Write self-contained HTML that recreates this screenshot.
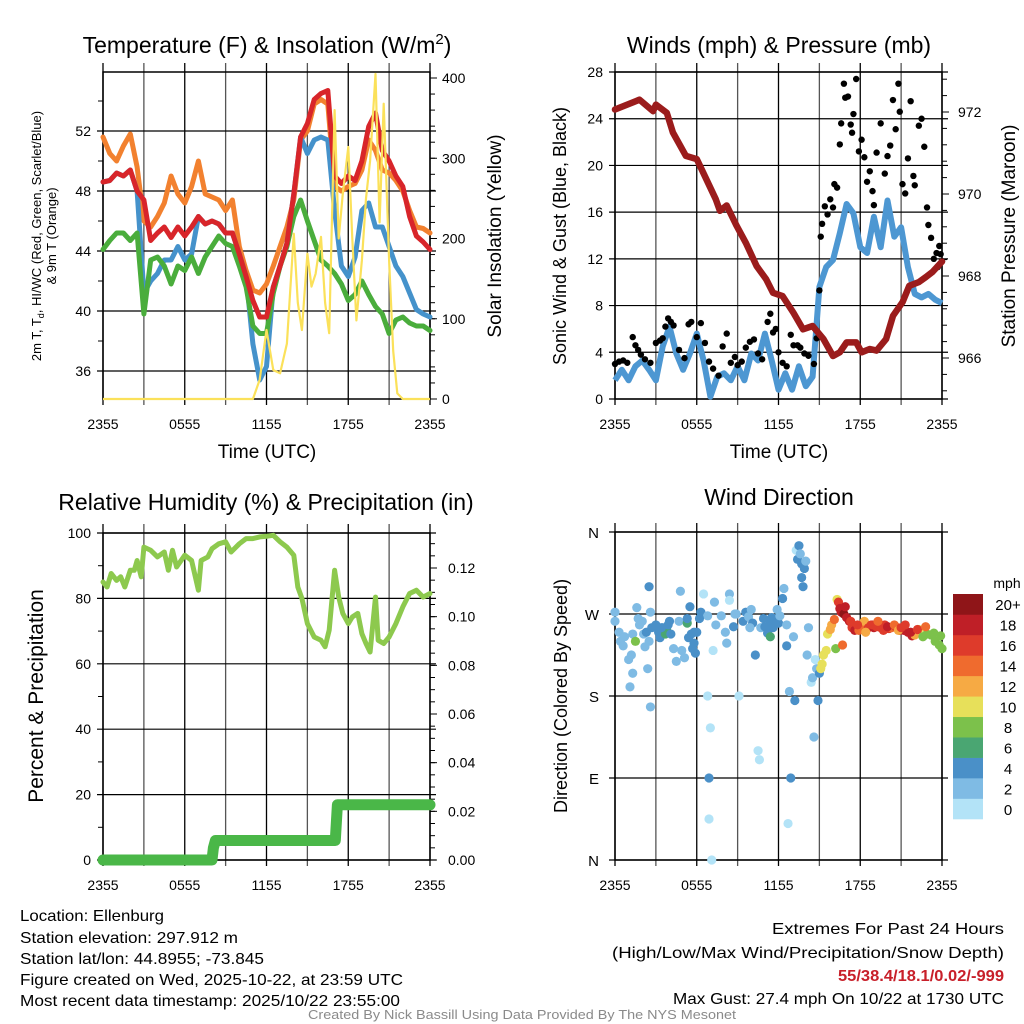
<!DOCTYPE html>
<html><head><meta charset="utf-8"><style>
html,body{margin:0;padding:0;background:#fff;}
svg{display:block;font-family:"Liberation Sans",sans-serif;}
</style></head><body>
<svg id="fig" width="1024" height="1024" viewBox="0 0 1024 1024" xmlns="http://www.w3.org/2000/svg">
<rect width="1024" height="1024" fill="#fff"/>
<g id="p1"></g>
<g id="p2"></g>
<g id="p3"></g>
<g id="p4"></g>
<g font-family="'Liberation Sans Narrow','Liberation Sans',sans-serif" font-size="16" fill="#000">
<text x="20" y="921" textLength="144" lengthAdjust="spacingAndGlyphs">Location: Ellenburg</text>
<text x="20" y="943" textLength="218" lengthAdjust="spacingAndGlyphs">Station elevation: 297.912 m</text>
<text x="20" y="964" textLength="244" lengthAdjust="spacingAndGlyphs">Station lat/lon: 44.8955; -73.845</text>
<text x="20" y="985" textLength="383" lengthAdjust="spacingAndGlyphs">Figure created on Wed, 2025-10-22, at 23:59 UTC</text>
<text x="20" y="1006" textLength="380" lengthAdjust="spacingAndGlyphs">Most recent data timestamp: 2025/10/22 23:55:00</text>
</g>
<g font-family="'Liberation Sans Narrow','Liberation Sans',sans-serif" font-size="16" text-anchor="end">
<text x="1004" y="934" textLength="232" lengthAdjust="spacingAndGlyphs">Extremes For Past 24 Hours</text>
<text x="1004" y="958" textLength="392" lengthAdjust="spacingAndGlyphs">(High/Low/Max Wind/Precipitation/Snow Depth)</text>
<text x="1004" y="981" fill="#c8202a" font-weight="bold" textLength="166" lengthAdjust="spacingAndGlyphs">55/38.4/18.1/0.02/-999</text>
<text x="1004" y="1004" textLength="331" lengthAdjust="spacingAndGlyphs">Max Gust: 27.4 mph On 10/22 at 1730 UTC</text>
</g>
<text x="522" y="1019" text-anchor="middle" font-family="'Liberation Sans Narrow','Liberation Sans',sans-serif" font-size="13" fill="#8a8a8a" textLength="428" lengthAdjust="spacingAndGlyphs">Created By Nick Bassill Using Data Provided By The NYS Mesonet</text>
</svg>
<script>
// ---- data (half-hourly, t = 0..24 h from 2355 UTC) ----
const tempT = [48.6,48.7,49.2,49,49.4,48,47.4,44.7,45.2,45.6,44.9,45.6,45,45.6,46.3,45.8,46,45.8,45.2,45.2,43.8,42.3,40.7,39.6,39.6,41.6,43,44.5,47.8,51.6,52.5,54.1,54.5,54.7,49,48.5,49,48.7,50,52.3,53.2,50.7,50,49,48.3,46.3,45,44.6,44.1];
const temp9m = [51.6,50.5,50,51,51.8,49.6,46,45.6,46.3,47.2,49,47.8,47.2,48.3,50,47.8,47.6,47.4,46.7,47.4,44.3,42.7,41.4,41.2,41.8,43,44.3,45.6,47.4,51.4,52,53.8,54.1,53.8,48.3,48,48.3,48.5,49.4,51.4,50.7,49.4,49.2,48.7,48,46.7,45.6,45.5,45.2];
const dewpt = [44.1,44.7,45.2,45.2,44.7,45.2,39.8,43.4,43.6,43,41.8,43,42.7,43.6,42.5,43.6,44.3,45,44.5,44.3,43,41.6,39,38.5,38.5,41.2,43,44.3,46.3,47.4,46,44.7,43.4,43,42.5,41.8,40.7,41.1,42,41.1,40.3,39.8,38.5,39.4,39.6,39.2,39,39,38.7];
const hiwc = [48.6,48.7,49.2,49,49.4,48,41.2,42,42.5,43.4,43.4,44.3,43.4,43.8,46.3,45.8,46,45.8,45.2,45.2,43.8,42.3,37.8,35.4,36.3,41.6,43,44.5,47.8,51.6,50.5,51.4,51.6,51.4,46.7,43,42.3,43.6,46.7,47.2,45.6,45.6,44.3,43,42.3,41.2,40.1,39.8,39.6];
const solarT = [0,11,11.5,12,12.5,13,13.5,14,14.3,14.6,15,15.3,15.6,16,16.3,16.6,17,17.3,17.6,18,18.3,18.6,19,19.3,19.6,20,20.3,20.6,21,21.3,21.6,22,24];
const solarW = [0,0,24,86,36,32,69,206,120,86,181,140,156,202,120,82,360,200,256,314,200,98,173,250,297,405,220,368,173,60,7,0,0];
const presT = [0,1.8,2.8,3,3.8,4.25,5.2,6,6.7,7.4,7.7,8.2,8.9,9.6,10.4,11.1,11.6,12.3,13.1,13.8,14.5,15.3,16,16.5,17,17.7,18.1,18.7,19.2,19.9,20.4,21.1,21.6,22.3,22.8,23.3,24];
const pressure = [972.06,972.3,972.02,972.18,971.98,971.5,970.93,970.85,970.36,969.87,969.59,969.72,969.24,968.81,968.24,967.92,967.59,967.51,967.1,966.7,966.78,966.46,966.05,966.14,966.38,966.38,966.14,966.22,966.18,966.46,967.03,967.36,967.76,967.85,967.97,968.1,968.35];
const sonicWind = [1.6,2.5,1.6,2.8,3.3,2.5,1.6,4.5,6.2,3.9,2.5,3.9,5.6,3.3,0.2,1.9,2.2,1.6,2.8,1.6,3.9,3.3,5.6,3.3,0.8,2.2,0.8,2.8,1.1,1.9,9.6,11.3,11.9,14.2,16.7,15.9,13,12.5,15.6,13,17,13.9,14.7,11.3,9,8.7,9,8.5,8.2];
const gustT = [0,0.3,0.6,0.9,1.3,1.5,1.7,1.9,2.2,2.6,3,3.3,3.5,3.7,3.9,4.1,4.3,4.7,5.1,5.4,5.6,6,6.3,6.6,6.9,7.2,7.6,7.9,8.2,8.5,8.8,9,9.3,9.6,9.9,10.2,10.5,10.8,11.2,11.4,11.6,11.8,12,12.3,12.6,12.9,13.1,13.4,13.6,13.9,14.2,14.6,14.8,15,15.1,15.2,15.4,15.6,15.8,16,16.1,16.3,16.5,16.6,16.8,16.9,17.1,17.3,17.4,17.5,17.7,17.9,18.1,18.3,18.5,18.7,18.9,19,19.2,19.5,19.8,20,20.2,20.4,20.6,20.8,20.9,21.1,21.3,21.5,21.7,21.9,22,22.3,22.5,22.7,22.9,23,23.2,23.4,23.6,23.8,24,23.7,23.9];
const gustV = [3,3.2,3.3,3.1,5.3,4.6,4.2,3.8,3.4,3.1,4.8,5,5.2,6.2,6.9,6.6,6.3,4.2,3.5,6.4,6.6,5.3,6.5,4.8,3.2,2.6,2,4.5,5.6,3.1,3.6,2.9,3.2,4.4,4.9,5.1,3.9,3.4,6.6,7.3,5.7,6,4,3.1,2.8,5.5,4.6,4.6,4.4,3.9,3.7,3,5.2,9.3,13.9,15,16.5,15.8,17.1,16.4,18.4,18.1,21.8,23.6,27,25.8,25.9,23.5,22.8,24.4,27.4,21.2,22.2,20.7,18.6,19.5,17.8,16.6,21.1,23.6,19.3,20.8,21.7,25.6,23.1,27,24.6,18.4,17.6,20.6,25.5,19.1,18.3,23.4,24,21.6,16.4,14.9,13.8,12,12.5,13.1,11.8,11.3,12.4];
const dirT = [0,0,0.3,0.4,0.6,0.7,1.0,1.2,1.1,1.3,1.3,1.6,1.7,1.8,2.0,2.1,2.3,2.4,2.5,2.6,2.5,2.7,2.6,3.0,3.2,3.3,3.5,3.7,3.8,3.9,4.1,4.3,4.5,4.7,4.8,4.9,5.1,5.3,5.4,5.5,5.3,5.6,5.7,5.8,5.9,6.0,6.3,6.5,6.8,6.8,7.0,6.9,6.9,7.1,7.2,7.3,7.4,7.8,8.1,8.2,8.4,8.4,8.7,8.9,9.1,9.4,9.6,9.8,10.0,10.1,10.3,10.7,10.5,10.6,11.0,11.2,11.4,11.4,11.5,11.7,11.9,12.0,12.1,12.3,12.4,12.6,12.6,12.7,12.8,13.2,12.9,13.1,13.3,13.4,13.5,13.6,13.7,13.7,13.8,13.9,14.0,14.1,14.2,14.4,14.5,14.6,14.7,14.8,14.9,15.0,15.1,15.2,15.3,15.5,15.6,15.8,15.9,16.1,16.3,16.4,16.5,16.6,16.8,17.0,17.2,17.4,17.6,17.9,18.1,18.3,18.6,18.8,19.0,19.2,19.5,19.8,20.1,20.3,20.6,20.9,21.2,21.5,21.8,22.0,22.3,22.6,22.9,23.2,23.5,23.8,24.0,16.2,16.7,16.9,17.3,17.8,18.4,18.9,19.3,19.7,20.0,20.5,20.8,21.0,21.3,21.7,22.2,22.8,23.4,23.9,1.5,2.2,3.4,4.0,5.8,6.2,8.8,9.9,10.9,11.6];
const dirDeg = [272,262,250,240,235,245,220,225,190,205,248,277,265,258,262,248,250,210,240,272,300,255,168,258,250,244,255,248,252,258,248,232,218,262,295,230,222,260,244,278,265,248,232,238,227,250,272,292,268,180,145,90,45,0,230,283,258,268,250,238,292,285,256,270,180,262,272,267,275,260,225,255,120,110,256,249,262,245,266,265,275,260,268,287,298,258,235,40,185,175,90,245,340,330,345,336,310,325,300,320,328,225,255,195,200,135,220,210,175,205,210,215,225,230,248,253,258,264,286,283,276,272,270,266,262,255,252,252,258,262,255,258,255,256,255,258,254,255,256,252,252,250,246,247,253,245,248,247,240,236,232,232,236,278,262,258,250,258,262,252,256,258,252,255,258,250,253,256,249,246,240,234,255,262,250,265,270,255,265,255,266];
const dirSpd = [2,2,1.5,2,1,2,1,1,2,1.5,2,2,2,2,2,2,3,2,2,1,3,3,2,4,4,4,4,6,6,3,3,2,2,1,1,2,2,6,4,4,4,3,3,3,3,3,3,0,1,0,0,3,0,0,0,1,2,2,2,2,1,0,3,2,0,3,3,2,2,3,3,2,0,0,4,4,4,5,3,3,2,3,2,3,1,2,3,0,2,3,3,2,0,3,4,2,3,4,3,3,2,1,1,0,1,2,0,2,3,4,9,10,10,9,10,12,12,13,10,16,17,18,19,18,17,16,17,14,13,12,15,16,17,16,16,15,16,13,15,16,17,17,17,11,10,8,8,8,8,8,8,8,14,18,16,15,12,15,13,16,17,14,12,15,16,17,15,13,8,8,8,2,3,3,4,3,2,2,3,4,3];
const rhT = [0,0.3,0.6,1,1.3,1.6,2,2.3,2.5,2.8,3,3.5,4,4.5,4.8,5.1,5.4,6,6.5,7,7.2,7.7,8,8.5,9,9.4,10,10.5,11,11.5,12,12.5,13,13.5,14,14.3,14.6,15,15.5,16,16.3,16.6,17,17.3,17.6,18,18.3,18.7,19,19.3,19.6,20,20.2,20.6,21,21.5,22,22.5,23,23.5,24];
const rhV = [85,83.5,87.6,85.5,86.6,83.5,88.6,88.6,91.6,86.6,95.7,94.7,92.7,94.2,88.6,94.7,89.6,93.2,91.6,82.5,91.6,92.7,95.2,96.7,97.3,94.2,96.7,98.3,98.3,98.8,99,99.3,97.3,95.7,93.2,83.5,80,72.3,68.2,67.2,65.2,70.3,88.6,80.4,75.4,72.3,74.3,75.4,69.2,66.2,63.6,80.4,67.2,66.2,68.2,72.3,77.4,81.5,82.5,80.4,81.5];
const precipT = [0,8.0,8.1,8.25,17.05,17.2,24];
const precipV = [0,0,0.005,0.008,0.008,0.0227,0.0227];
const timeLabels = ["2355","0555","1155","1755","2355"];
const tempTicks = [36,40,44,48,52];
const solarTicks = [0,100,200,300,400];
const windTicks = [0,4,8,12,16,20,24,28];
const presTicks = [966,968,970,972];
const rhTicks = [0,20,40,60,80,100];
const precipTicks = ["0.00","0.02","0.04","0.06","0.08","0.10","0.12"];
const dirLabels = ["N","E","S","W","N"];
const cbLabels = ["0","2","4","6","8","10","12","14","16","18","20+"];
const cbColors = ["#b3e3f7","#7fbbe4","#4a90c8","#4aa672","#7cc14b","#e7e05a","#f6aa44","#ef6b2e","#de3b2b","#bf1f27","#8f1518"];

const NS="http://www.w3.org/2000/svg";
function mk(parent, tag, attrs){const e=document.createElementNS(NS,tag);for(const k in attrs)e.setAttribute(k,attrs[k]);parent.appendChild(e);return e;}
function halfT(i){return i*0.5;}
function xAxisFn(x0){return t=>x0+t/24*327;}
function lin(d0,d1,r0,r1){return v=>r0+(v-d0)/(d1-d0)*(r1-r0);}
function pathFrom(ts,vs,fx,fy){return ts.map((t,i)=>(i?'L':'M')+fx(t).toFixed(1)+' '+fy(vs[i]).toFixed(1)).join(' ');}

function frame(g,x0,yTop,yBot,title,tx,ty){
  for(let k=0;k<=8;k++){const x=x0+k*327/8;
    const l=mk(g,'line',{x1:x,x2:x,y1:yTop-9,y2:yBot+6,stroke:(k%2?'#555':'#000'),'stroke-width':1.3});
    
    
  }
  const r=mk(g,'rect',{x:x0,y:yTop,width:327,height:yBot-yTop,fill:'none',stroke:'#000','stroke-width':1.5});
  
  
  if(title){const t=mk(g,'text',{x:tx,y:ty,'text-anchor':'middle','font-size':23});t.innerHTML=title;
    
    }
}
function timeTicks(g,x0,y){
  timeLabels.forEach((s,i)=>{const t=mk(g,'text',{x:x0+i*327/4,y:y,'text-anchor':'middle','font-size':14});t.textContent=s;
    
    });
}
function hgrid(g,x0,y){
  const l=mk(g,'line',{x1:x0-6,x2:x0+327+6,y1:y,y2:y,stroke:'#000','stroke-width':1.2});
  
  
}
function label(g,x,y,s,anchor,size){
  const t=mk(g,'text',{x:x,y:y,'text-anchor':anchor||'middle','font-size':size||14});
  t.innerHTML=s;return t;
}

// ===== Panel 1: temperature =====
(function(){
  const g=document.getElementById('p1');const x0=103;const fx=xAxisFn(x0);
  const fy=lin(52,48,131,191);const fs=lin(0,400,399,78);
  frame(g,x0,72,399,'Temperature (F) &amp; Insolation (W/m<tspan dy="-9" font-size="15">2</tspan><tspan dy="9">)</tspan>',267,53);
  tempTicks.forEach(v=>{hgrid(g,x0,fy(v));const t=label(g,x0-12,fy(v)+5,v,'end');
    
    });
  for(let v=38;v<=54;v+=4){mk(g,'line',{x1:x0-5,x2:x0,y1:fy(v),y2:fy(v),stroke:'#000'});}
  solarTicks.forEach(v=>{mk(g,'line',{x1:430,x2:437,y1:fs(v),y2:fs(v),stroke:'#000'});const t=label(g,442,fs(v)+5,v,'start');
    
    });
  for(let v=20;v<400;v+=20){mk(g,'line',{x1:430,x2:435,y1:fs(v),y2:fs(v),stroke:'#000'});}
  timeTicks(g,x0,429);
  const xl=label(g,267,458,'Time (UTC)','middle',19);
  
  
  const ts=tempT.map((v,i)=>halfT(i));
  [[temp9m,'#f2812f','orange-9m-temp-line'],[hiwc,'#4592cb','blue-hiwc-line'],[dewpt,'#4aad3c','green-dewpoint-line'],[tempT,'#d8252a','red-2m-temp-line']].forEach(s=>{
    const p=mk(g,'path',{d:pathFrom(ts,s[0],fx,fy),fill:'none',stroke:s[1],'stroke-width':5,'stroke-linejoin':'round','stroke-linecap':'round'});
    
    
  });
  const sp=mk(g,'path',{d:pathFrom(solarT,solarW,fx,fs),fill:'none',stroke:'#fbe15a','stroke-width':2.2,'stroke-linejoin':'round'});
  
  
  const yl=mk(g,'text',{x:0,y:0,'text-anchor':'middle','font-size':13,transform:'translate(41 236) rotate(-90)'});
  yl.innerHTML='2m T, T<tspan dy="3" font-size="9">d</tspan><tspan dy="-3">, HI/WC (Red, Green, Scarlet/Blue)</tspan>';
  
  
  const yl2=label(g,0,0,'&amp; 9m T (Orange)','middle',13);yl2.setAttribute('transform','translate(56 236) rotate(-90)');
  
  
  const yr=label(g,0,0,'Solar Insolation (Yellow)','middle',19);yr.setAttribute('transform','translate(501 236) rotate(-90)');
  
  
})();

// ===== Panel 2: winds =====
(function(){
  const g=document.getElementById('p2');const x0=615;const fx=xAxisFn(x0);
  const fy=lin(0,28,399,72);const fp=lin(972,966,112,358);
  frame(g,x0,72,399,'Winds (mph) &amp; Pressure (mb)',779,53);
  windTicks.forEach(v=>{hgrid(g,x0,fy(v));const t=label(g,x0-12,fy(v)+5,v,'end');
    
    });
  presTicks.forEach(v=>{mk(g,'line',{x1:942,x2:949,y1:fp(v),y2:fp(v),stroke:'#000'});const t=label(g,958,fp(v)+5,v,'start');
    
    });
  for(let v=965.2;v<973;v+=0.4){mk(g,'line',{x1:942,x2:947,y1:fp(v),y2:fp(v),stroke:'#000'});}
  timeTicks(g,x0,429);
  const xl=label(g,779,458,'Time (UTC)','middle',19);
  
  
  const ts=sonicWind.map((v,i)=>halfT(i));
  const wp=mk(g,'path',{d:pathFrom(ts,sonicWind,fx,fy),fill:'none',stroke:'#4d97d2','stroke-width':6,'stroke-linejoin':'round'});
  
  
  gustT.forEach((t,i)=>{const c=mk(g,'circle',{cx:fx(t),cy:fy(gustV[i]),r:3.2,fill:'#000'});
    
    });
  const pp=mk(g,'path',{d:pathFrom(presT,pressure,fx,fp),fill:'none',stroke:'#9b1c1c','stroke-width':6.5,'stroke-linejoin':'round','stroke-linecap':'round'});
  
  
  const yl=label(g,0,0,'Sonic Wind &amp; Gust (Blue, Black)','middle',18);yl.setAttribute('transform','translate(566 236) rotate(-90)');
  
  
  const yr=label(g,0,0,'Station Pressure (Maroon)','middle',19);yr.setAttribute('transform','translate(1015 236) rotate(-90)');
  
  
})();

// ===== Panel 3: humidity =====
(function(){
  const g=document.getElementById('p3');const x0=103;const fx=xAxisFn(x0);
  const fy=lin(0,100,860,533);const fpr=lin(0,0.12,860,568);
  frame(g,x0,533,860,'Relative Humidity (%) &amp; Precipitation (in)',266,510);
  rhTicks.forEach(v=>{hgrid(g,x0,fy(v));const t=label(g,x0-12,fy(v)+5,v,'end');
    
    });
  for(let v=10;v<100;v+=20){mk(g,'line',{x1:x0-5,x2:x0,y1:fy(v),y2:fy(v),stroke:'#000'});}
  precipTicks.forEach(s=>{const v=parseFloat(s);mk(g,'line',{x1:430,x2:437,y1:fpr(v),y2:fpr(v),stroke:'#000'});const t=label(g,448,fpr(v)+5,s,'start');
    
    });
  for(let v=0.005;v<0.134;v+=0.005){mk(g,'line',{x1:430,x2:435,y1:fpr(v),y2:fpr(v),stroke:'#000'});}
  timeTicks(g,x0,890);
  const rp=mk(g,'path',{d:pathFrom(rhT,rhV,fx,fy),fill:'none',stroke:'#8dc94e','stroke-width':5,'stroke-linejoin':'round','stroke-linecap':'round'});
  
  
  const pp=mk(g,'path',{d:pathFrom(precipT,precipV,fx,fpr),fill:'none',stroke:'#4ab748','stroke-width':11,'stroke-linejoin':'round','stroke-linecap':'round'});
  
  
  const yl=label(g,0,0,'Percent &amp; Precipitation','middle',21);yl.setAttribute('transform','translate(43 696) rotate(-90)');
  
  
})();

// ===== Panel 4: wind direction =====
(function(){
  const g=document.getElementById('p4');const x0=615;const fx=xAxisFn(x0);
  const fy=lin(0,360,860,532);
  frame(g,x0,532,860,'Wind Direction',779,505);
  dirLabels.forEach((s,i)=>{const v=i*90;hgrid(g,x0,fy(v));const t=label(g,x0-16,fy(v)+6,s,'end',15);
    
    });
  timeTicks(g,x0,890);
  function col(s){return cbColors[Math.min(10,Math.max(0,Math.round(s/2)))];}
  dirT.forEach((t,i)=>{const c=mk(g,'circle',{cx:fx(t),cy:fy(dirDeg[i]),r:4.6,fill:col(dirSpd[i])});
    
    });
  const yl=label(g,0,0,'Direction (Colored By Speed)','middle',18);yl.setAttribute('transform','translate(567 696) rotate(-90)');
  
  
  const bh=225/11;
  cbColors.forEach((c,i)=>{const y=819-(i+1)*bh;const r=mk(g,'rect',{x:953,y:y,width:30,height:bh+0.3,fill:c});
    
    
    const t=label(g,1008,y+bh/2+6,cbLabels[i],'middle',15);
    
    });
  const u=label(g,1007,588,'mph','middle',14);
  
  
})();
</script>
</body></html>
